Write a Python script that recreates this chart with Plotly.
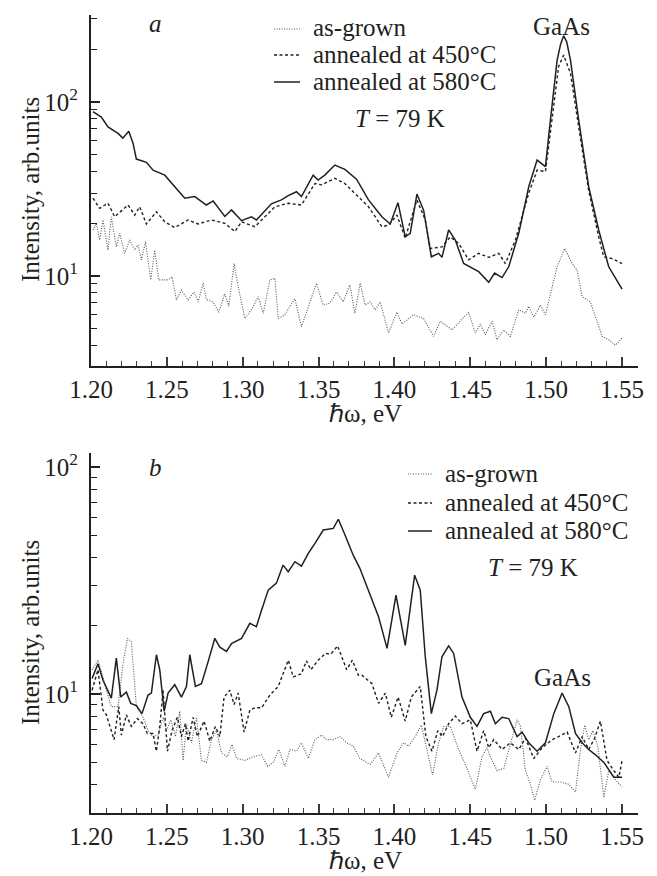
import plotly.graph_objects as go

# ---------------- data ----------------
# Panel a
xa_580 = [1.2013,1.2068,1.2112,1.2178,1.2210,1.2249,1.2277,1.2299,1.2365,1.2409,1.2486,1.2552,1.2618,1.2684,1.2760,1.2805,1.2882,1.2926,1.2992,1.3057,1.3090,1.3189,1.3255,1.3300,1.3354,1.3387,1.3464,1.3497,1.3541,1.3607,1.3673,1.3750,1.3829,1.3917,1.3972,1.4023,1.4071,1.4104,1.4148,1.4192,1.4243,1.4291,1.4313,1.4357,1.4401,1.4456,1.4500,1.4555,1.4621,1.4660,1.4709,1.4753,1.4819,1.4885,1.4940,1.4995,1.5028,1.5072,1.5095,1.5115,1.5135,1.5160,1.5214,1.5280,1.5346,1.5412,1.5500]
ya_580 = [88,82,72,66,62,68,58,47,45,40.6,38,32.6,28,28.6,25.6,27,22,24,20.8,21.9,21,26,27.4,29,30.5,28.6,38,35.6,38,43.4,41,36,27.4,21.9,19.9,26.4,16.8,17.6,29.6,23.9,12.9,13.5,12.8,18.4,16.1,11.8,11.3,10.6,9.2,10.4,9.8,11.3,17.6,32.6,46.4,42.5,78.9,174,215,240,222,174,79,32.6,18.4,11.3,8.4]

xa_450 = [1.2013,1.2057,1.2112,1.2156,1.2244,1.2288,1.2321,1.2365,1.2431,1.2486,1.2552,1.2640,1.2706,1.2794,1.2882,1.2948,1.2992,1.3080,1.3146,1.3212,1.3300,1.3387,1.3476,1.3519,1.3607,1.3673,1.3761,1.3829,1.3917,1.3961,1.4016,1.4071,1.4148,1.4203,1.4236,1.4313,1.4368,1.4423,1.4489,1.4555,1.4621,1.4687,1.4731,1.4797,1.4885,1.4940,1.4995,1.5049,1.5082,1.5115,1.5160,1.5214,1.5280,1.5346,1.5379,1.5434,1.5500]
ya_450 = [28,24.5,26.2,21.9,25.6,22.4,25,19.9,23.4,20.5,19,21,19.9,21,20.1,18,20.5,19.2,21.9,25,26.2,25.6,34,33.4,36.4,34,28.6,25,19.2,19.6,22.4,16.5,27.4,21,14.4,14.7,16.8,15.4,12.4,13.5,12.8,13.5,11.8,16.1,29.9,40.6,39.8,98,160,186,146,72,31,16.8,12.9,12.6,11.8]

xa_grown = [1.2013,1.2035,1.2057,1.2079,1.2112,1.2134,1.2167,1.2189,1.2222,1.2255,1.2288,1.2310,1.2332,1.2359,1.2394,1.2420,1.2447,1.2508,1.2534,1.2563,1.2596,1.2640,1.2679,1.2706,1.2739,1.2761,1.2805,1.2842,1.2882,1.2908,1.2943,1.2970,1.3014,1.3057,1.3102,1.3135,1.3179,1.3212,1.3234,1.3278,1.3311,1.3344,1.3387,1.3432,1.3486,1.3530,1.3575,1.3618,1.3662,1.3706,1.3739,1.3774,1.3807,1.3840,1.3873,1.3906,1.3961,1.4016,1.4049,1.4126,1.4192,1.4258,1.4302,1.4379,1.4489,1.4533,1.4566,1.4599,1.4643,1.4676,1.4720,1.4764,1.4819,1.4863,1.4885,1.4918,1.4962,1.4995,1.5039,1.5072,1.5122,1.5171,1.5204,1.5237,1.5291,1.5325,1.5369,1.5412,1.5456,1.5500]
ya_grown = [18.4,20,16.1,21,14.1,21.9,14.7,17.6,13.5,16.1,14.1,15.1,12.4,15.7,9.5,14.1,9.5,9.5,9.9,7.3,8.3,7.3,8.1,7.1,9.1,7.3,7.1,6.2,7.9,6.7,11.8,8.7,5.7,6.4,7.6,6.1,9.5,9.7,5.7,6.0,6.7,7.4,5.1,6.7,9.1,6.8,7.0,8.1,7.1,8.9,6.1,9.1,6.8,7.1,6.4,7.1,4.7,6.2,5.3,6.0,5.7,4.5,5.5,4.9,6.2,4.7,5.3,4.6,5.5,4.3,4.9,4.5,6.4,6.1,6.7,5.8,6.8,6.0,8.7,11.3,14.4,11.8,10.8,7.6,7.1,5.8,4.5,4.3,4.0,4.4]

# Panel b
xb_580 = [1.2007,1.2046,1.2079,1.2134,1.2167,1.2196,1.2233,1.2262,1.2299,1.2336,1.2376,1.2398,1.2431,1.2453,1.2482,1.2508,1.2552,1.2596,1.2629,1.2651,1.2688,1.2728,1.2772,1.2816,1.2849,1.2893,1.2926,1.2992,1.3047,1.3090,1.3124,1.3168,1.3222,1.3266,1.3300,1.3344,1.3387,1.3432,1.3476,1.3531,1.3597,1.3630,1.3674,1.3728,1.3772,1.3829,1.3895,1.3922,1.3951,1.4010,1.4071,1.4133,1.4170,1.4203,1.4243,1.4280,1.4313,1.4357,1.4390,1.4445,1.4500,1.4544,1.4588,1.4632,1.4665,1.4709,1.4753,1.4808,1.4841,1.4885,1.4940,1.4995,1.5050,1.5105,1.5149,1.5193,1.5237,1.5280,1.5325,1.5380,1.5446,1.5500]
yb_580 = [11.7,13.6,11.5,9.6,14.4,9.7,10.2,9.1,8.9,8.2,9.9,10.1,14.9,12.8,8.4,10.1,11.0,9.7,10.8,14.9,10.8,11.1,13.9,17.6,16.1,15.4,16.7,17.6,20.5,19.8,23.4,28.7,30.8,37,34.6,38.3,36.6,41.7,46.1,52.8,53.7,58.9,50.2,40.9,35.8,28.7,21.9,18.8,15.9,27.3,16.4,33.4,28.7,14.6,8.2,10.4,14.6,16.3,15.1,9.7,7.9,7.2,8.2,8.4,7.4,7.9,7.8,6.5,6.8,6.1,5.6,6.1,8.2,10.1,8.8,6.7,6.1,5.7,5.4,5.0,4.3,4.3]

xb_450 = [1.2007,1.2046,1.2079,1.2101,1.2152,1.2183,1.2200,1.2233,1.2266,1.2306,1.2343,1.2371,1.2409,1.2431,1.2453,1.2475,1.2504,1.2534,1.2569,1.2596,1.2622,1.2640,1.2673,1.2701,1.2745,1.2783,1.2820,1.2849,1.2877,1.2915,1.2943,1.2970,1.3009,1.3047,1.3080,1.3124,1.3179,1.3234,1.3300,1.3333,1.3387,1.3420,1.3449,1.3497,1.3546,1.3581,1.3625,1.3685,1.3722,1.3762,1.3786,1.3852,1.3895,1.3940,1.3979,1.4024,1.4071,1.4111,1.4170,1.4207,1.4247,1.4286,1.4317,1.4357,1.4401,1.4445,1.4500,1.4544,1.4588,1.4621,1.4654,1.4709,1.4764,1.4819,1.4863,1.4918,1.4973,1.5039,1.5083,1.5138,1.5193,1.5237,1.5280,1.5320,1.5357,1.5401,1.5446,1.5479,1.5500]
yb_450 = [10.4,12.8,8.5,8.1,6.3,8.8,6.6,8.1,7.2,7.8,7.4,6.7,6.7,5.6,7.2,10.4,5.6,6.9,7.9,6.5,7.4,6.2,7.9,6.5,7.6,6.2,7.2,6.5,9.7,10.4,9.0,10.1,6.8,8.5,8.7,8.7,9.9,10.8,14.1,11.9,12.3,14.0,12.8,14.1,15.1,15.0,16.3,12.8,14.1,12.1,12.1,11.1,9.1,10.1,7.9,9.7,7.6,9.7,10.8,6.5,5.6,6.9,6.5,7.4,8.0,7.4,7.7,5.6,6.9,5.8,6.3,5.7,6.1,5.7,6.4,5.2,5.8,6.3,6.5,6.8,5.5,6.5,5.7,6.4,7.6,5.1,4.6,4.3,5.1]

xb_grown = [1.2007,1.2046,1.2079,1.2101,1.2134,1.2178,1.2211,1.2240,1.2266,1.2299,1.2343,1.2376,1.2409,1.2442,1.2475,1.2497,1.2526,1.2556,1.2585,1.2607,1.2629,1.2662,1.2695,1.2728,1.2761,1.2794,1.2827,1.2860,1.2899,1.2930,1.2959,1.3014,1.3069,1.3124,1.3163,1.3201,1.3238,1.3278,1.3311,1.3354,1.3387,1.3432,1.3476,1.3519,1.3552,1.3597,1.3641,1.3685,1.3728,1.3772,1.3840,1.3895,1.3961,1.4016,1.4060,1.4093,1.4137,1.4177,1.4214,1.4251,1.4291,1.4324,1.4368,1.4423,1.4478,1.4533,1.4577,1.4610,1.4643,1.4676,1.4720,1.4764,1.4808,1.4830,1.4863,1.4896,1.4924,1.4962,1.5006,1.5039,1.5094,1.5149,1.5193,1.5226,1.5254,1.5280,1.5307,1.5340,1.5380,1.5412,1.5456,1.5500]
yb_grown = [12.8,14.1,11.9,10.4,8.8,8.8,13.6,17.6,17.0,8.8,7.9,6.9,6.5,6.6,7.9,6.9,7.7,6.5,8.4,5.1,7.4,6.1,7.9,5.1,5.0,6.3,6.9,5.5,5.3,6.0,5.2,5.1,5.3,5.4,4.8,5.0,5.7,4.8,5.7,5.6,6.1,5.2,6.3,6.6,6.3,6.3,6.5,6.1,5.9,5.2,4.9,5.5,4.3,5.5,6.1,5.9,6.5,7.3,5.7,4.4,6.1,7.2,7.2,5.7,4.7,3.8,5.3,5.8,5.1,4.6,4.7,6.1,7.7,7.2,4.6,4.0,3.4,4.2,4.8,4.1,4.1,4.0,3.7,5.7,7.3,6.3,6.9,5.9,3.5,4.6,4.2,3.9]

legend_labels = ["as-grown", "annealed at 450°C", "annealed at 580°C"]
x_major = [1.20, 1.25, 1.30, 1.35, 1.40, 1.45, 1.50, 1.55]

for a, b in [(xa_580, ya_580), (xa_450, ya_450), (xa_grown, ya_grown),
             (xb_580, yb_580), (xb_450, yb_450), (xb_grown, yb_grown)]:
    assert len(a) == len(b), (len(a), len(b))

# ---------------- styling ----------------
FONT = "Liberation Serif, Times New Roman, serif"
INK = "#231f20"
XTICK = "#3c3c3c"
FS = 25
OFF = 8                      # page body margin of the written html
W, H = 657 - OFF, 876 - OFF
L, R, T, B = 91 - OFF, 19, 15 - OFF, 63
PW, PH = W - L - R, H - T - B


def P(px, py):
    """reference-pixel position -> paper coordinates"""
    return (px - OFF - L) / PW, (H - B - (py - OFF)) / PH


def ydom(py):
    return (H - B - (py - OFF)) / PH


styles = {
    "grown": dict(color="#555555", width=1.1, dash="1px,1.5px"),
    "450": dict(color=INK, width=1.4, dash="3px,2.5px"),
    "580": dict(color=INK, width=1.5, dash="solid"),
}

fig = go.Figure()
series = [
    ("x", "y", xa_grown, ya_grown, "grown"),
    ("x", "y", xa_450, ya_450, "450"),
    ("x", "y", xa_580, ya_580, "580"),
    ("x2", "y2", xb_grown, yb_grown, "grown"),
    ("x2", "y2", xb_450, yb_450, "450"),
    ("x2", "y2", xb_580, yb_580, "580"),
]
for xr, yr, xs, ys, key in series:
    fig.add_trace(go.Scatter(x=xs, y=ys, xaxis=xr, yaxis=yr, mode="lines",
                             line=styles[key], showlegend=False, hoverinfo="skip"))

minor_x = [round(1.20 + 0.01 * i, 2) for i in range(36) if i % 5 != 0]

xaxis_common = dict(
    type="linear",
    range=[1.2, 1.5605], showgrid=False, zeroline=False, automargin=False,
    showline=True, linecolor=INK, linewidth=2, mirror=False,
    ticklen=9, tickwidth=1.6, tickcolor=XTICK,
    tickmode="array", tickvals=x_major, ticktext=[f"{v:.2f}" for v in x_major],
    showticklabels=True,
    tickfont=dict(family=FONT, size=FS, color=INK),
    minor=dict(ticks="inside", ticklen=5, tickwidth=1.3, tickcolor=XTICK,
               tickmode="array", tickvals=minor_x, showgrid=False),
)
yaxis_common = dict(
    type="log", showgrid=False, zeroline=False, automargin=False,
    showline=True, linecolor=INK, linewidth=2,
    ticks="inside", ticklen=9, tickwidth=1.6, tickcolor=INK,
    tickmode="array", tickvals=[10, 100],
    ticktext=["10<sup>1</sup>", "10<sup>2</sup>"],
    tickfont=dict(family=FONT, size=FS, color=INK),
    ticklabelstandoff=6,
)

fig.update_layout(
    template="none",
    width=W, height=H, plot_bgcolor="rgba(0,0,0,0)", paper_bgcolor="white",
    margin=dict(l=L, r=R, t=T, b=B, autoexpand=False),
    showlegend=False,
    xaxis=dict(**xaxis_common, ticks="inside", domain=[0, 1], anchor="y"),
    xaxis2=dict(**xaxis_common, ticks="inside", domain=[0, 1], anchor="y2"),
    yaxis=dict(**yaxis_common, domain=[ydom(366), 1], anchor="x",
               range=[0.483, 2.5],
               minor=dict(ticks="inside", ticklen=6, tickwidth=1.2, tickcolor=INK,
                          tickmode="array",
                          tickvals=[4, 5, 6, 7, 8, 9, 20, 30, 40, 50, 60, 70, 80, 90, 200, 300])),
    yaxis2=dict(**yaxis_common, domain=[0, ydom(453)], anchor="x2",
                range=[0.476, 2.062],
                minor=dict(ticks="inside", ticklen=6, tickwidth=1.2, tickcolor=INK,
                           tickmode="array",
                           tickvals=[4, 5, 6, 7, 8, 9, 20, 30, 40, 50, 60, 70, 80, 90])),
)

annotations = []
shapes = []


def text(px, py, s, xanchor="center", angle=0, size=FS):
    x, y = P(px, py)
    annotations.append(dict(
        x=x, y=y, xref="paper", yref="paper", text=s, showarrow=False,
        xanchor=xanchor, yanchor="middle", textangle=angle,
        font=dict(family=FONT, size=size, color=INK)))


# axis titles
text(30, 190, "Intensity, arb.units", angle=-90)
text(30, 633, "Intensity, arb.units", angle=-90)
text(365, 413, "ℏω, eV")
text(365, 860, "ℏω, eV")

# panel labels and notes
text(155, 24, "<i>a</i>")
text(155, 467, "<i>b</i>")
text(561, 26, "GaAs")
text(562, 677, "GaAs")
text(400, 118, "<i>T</i> = 79 K")
text(533, 567, "<i>T</i> = 79 K")

# legends
order = ["grown", "450", "580"]
for (sx0, sx1, tx, rows) in [(274, 300, 311, [28, 54, 81]),
                             (408, 432, 443, [473, 502, 530])]:
    for key, lab, ry in zip(order, legend_labels, rows):
        x0, y0 = P(sx0, ry + 1)
        x1, _ = P(sx1, ry + 1)
        st = styles[key]
        shapes.append(dict(type="line", xref="paper", yref="paper",
                           x0=x0, x1=x1, y0=y0, y1=y0,
                           line=dict(color=st["color"], width=st["width"], dash=st["dash"])))
        text(tx, ry, lab, xanchor="left")

fig.update_layout(annotations=annotations, shapes=shapes)
fig.write_html("out.html")
